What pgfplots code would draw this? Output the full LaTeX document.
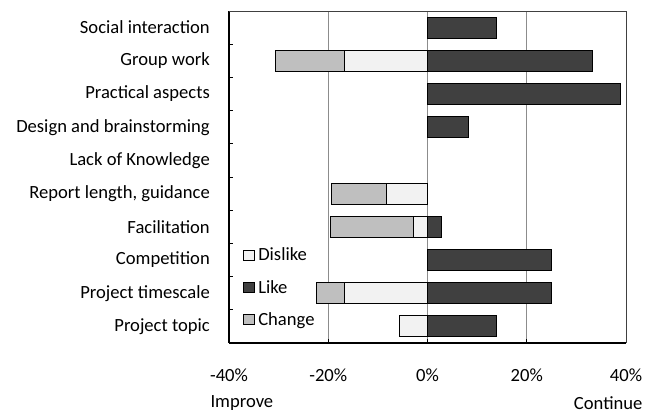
\documentclass[border=0pt]{standalone}
\usepackage{pgfplots}
\pgfplotsset{compat=1.18}
\usepackage{pgfplotstable}
\usepackage{fontspec}
\setmainfont{Carlito}

\definecolor{likec}{HTML}{404040}
\definecolor{dislikec}{HTML}{F2F2F2}
\definecolor{changec}{HTML}{BFBFBF}
\definecolor{gridc}{HTML}{8C8C8C}

% share of answers in %, nan = no bar
\pgfplotstableread{
idx dislike change like
0   nan     nan    13.9
1   16.7    13.9   33.3
2   nan     nan    38.9
3   nan     nan    8.3
4   nan     nan    nan
5   8.3     11.1   nan
6   2.8     16.7   2.8
7   nan     nan    25.0
8   16.7    5.6    25.0
9   5.6     nan    13.9
}\votes

\newcommand\lbl{\fontsize{18.6bp}{22bp}\selectfont}

\begin{document}
\begin{tikzpicture}[font=\lbl]
\useasboundingbox (-229bp,-73bp) rectangle (433bp,343bp);
\begin{axis}[
    at={(0,0)}, anchor=south west,
    scale only axis,
    width=397bp, height=332bp,
    xmin=-40, xmax=40,
    ymin=-0.5, ymax=9.5,
    y dir=reverse,
    xbar, bar width=21bp, bar shift=0pt,
    unbounded coords=discard,
    axis x line*=bottom, axis y line*=left,
    axis line style={-, line width=1.6bp, black},
    xtick={-40,-20,0,20,40},
    xticklabels={-40\%,-20\%,0\%,20\%,40\%},
    xtick pos=bottom, ytick pos=left,
    tick align=inside,
    major tick length=4bp,
    xmajorgrids,
    grid style={gridc, line width=0.9bp},
    xtick style={draw=black, line width=0.8bp},
    ytick={0,...,9},
    yticklabels={Social interaction, Group work, Practical aspects,
      Design and brainstorming, Lack of Knowledge, {Report length, guidance},
      Facilitation, Competition, Project timescale, Project topic},
    ytick style={draw=none},
    extra y ticks={0.5,1.5,...,8.5},
    extra y tick labels={},
    extra y tick style={ytick style={draw=black, line width=1bp}},
    xticklabel style={font=\lbl, anchor=north, inner sep=0pt, yshift=-26bp},
    yticklabel style={font=\lbl, anchor=east, inner sep=0pt, xshift=-19bp},
    legend style={draw=none, fill=none, font=\lbl,
      at={(0.036,0.292)}, anchor=north west,
      row sep=15bp, column sep=2bp, inner sep=0pt,
      nodes={inner sep=1.5bp}},
    legend cell align=left,
    reverse legend,
    legend image code/.code={
      \draw[#1, draw=black, line width=0.8bp] (0bp,-5bp) rectangle (10.5bp,5bp);},
    every axis plot/.append style={draw=black, line width=0.9bp},
    after end axis/.code={
      \draw[likec, line width=0.9bp] (rel axis cs:0,1) -- (rel axis cs:1,1) -- (rel axis cs:1,0);
      \node[anchor=west] at (rel axis cs:0,0) [xshift=-22bp, yshift=-60bp] {Improve};
      \node[anchor=east] at (rel axis cs:1,0) [xshift=20bp, yshift=-60bp] {Continue};
    },
]
\addplot[fill=changec] table[x expr={-\thisrow{dislike}-\thisrow{change}}, y=idx] {\votes};
\addlegendentry{Change}
\addplot[fill=likec] table[x=like, y=idx] {\votes};
\addlegendentry{Like}
\addplot[fill=dislikec] table[x expr={-\thisrow{dislike}}, y=idx] {\votes};
\addlegendentry{Dislike}
\end{axis}
\end{tikzpicture}
\end{document}
